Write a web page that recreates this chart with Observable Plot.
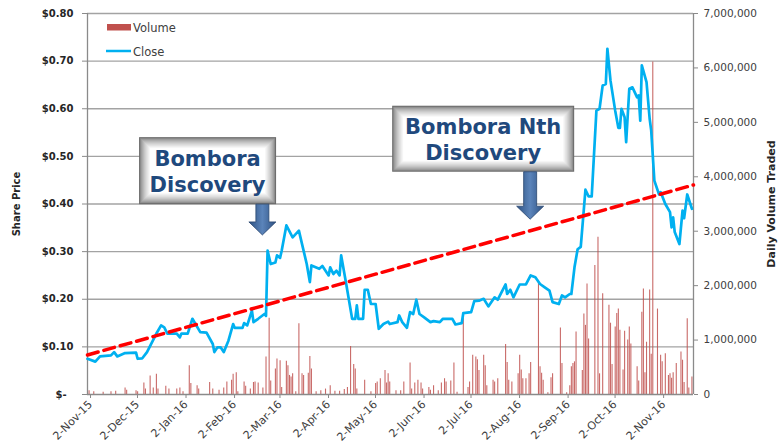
<!DOCTYPE html>
<html>
<head>
<meta charset="utf-8">
<script src="https://cdn.jsdelivr.net/npm/d3@7"></script>
<script src="https://cdn.jsdelivr.net/npm/@observablehq/plot@0.6"></script>
<style>
  html, body { margin: 0; padding: 0; background: #fff; }
  #chart { width: 780px; height: 442px; }
</style>
</head>
<body>
<div id="chart"></div>
<script>
// ---------------- DATA ----------------
const closeDates = ["2015-11-02","2015-11-07","2015-11-10","2015-11-17","2015-11-19","2015-11-21","2015-11-26","2015-12-03","2015-12-04","2015-12-07","2015-12-10","2015-12-16","2015-12-19","2015-12-21","2015-12-23","2015-12-29","2015-12-31","2016-01-01","2016-01-05","2016-01-08","2016-01-13","2016-01-17","2016-01-21","2016-01-22","2016-01-24","2016-01-26","2016-01-28","2016-01-31","2016-02-03","2016-02-04","2016-02-09","2016-02-10","2016-02-12","2016-02-15","2016-02-16","2016-02-19","2016-02-23","2016-02-24","2016-02-25","2016-02-27","2016-03-01","2016-03-02","2016-03-04","2016-03-05","2016-03-08","2016-03-12","2016-03-16","2016-03-17","2016-03-21","2016-03-23","2016-03-24","2016-03-29","2016-03-31","2016-04-04","2016-04-05","2016-04-07","2016-04-09","2016-04-11","2016-04-12","2016-04-15","2016-04-19","2016-04-21","2016-04-22","2016-04-23","2016-04-26","2016-04-27","2016-04-29","2016-05-01","2016-05-04","2016-05-06","2016-05-09","2016-05-12","2016-05-13","2016-05-18","2016-05-19","2016-05-21","2016-05-24","2016-05-26","2016-05-28","2016-05-30","2016-06-01","2016-06-04","2016-06-08","2016-06-10","2016-06-14","2016-06-16","2016-06-22","2016-06-24","2016-06-28","2016-06-29","2016-07-04","2016-07-06","2016-07-09","2016-07-12","2016-07-15","2016-07-19","2016-07-21","2016-07-26","2016-07-27","2016-07-29","2016-07-31","2016-08-04","2016-08-08","2016-08-11","2016-08-14","2016-08-17","2016-08-20","2016-08-23","2016-08-25","2016-08-29","2016-08-31","2016-09-02","2016-09-05","2016-09-06","2016-09-08","2016-09-10","2016-09-12","2016-09-15","2016-09-17","2016-09-19","2016-09-22","2016-09-24","2016-09-26","2016-09-28","2016-09-29","2016-10-01","2016-10-04","2016-10-06","2016-10-07","2016-10-08","2016-10-10","2016-10-11","2016-10-13","2016-10-15","2016-10-18","2016-10-19","2016-10-20","2016-10-21","2016-10-24","2016-10-26","2016-10-27","2016-10-29","2016-11-01","2016-11-02","2016-11-05","2016-11-08","2016-11-09","2016-11-10","2016-11-11","2016-11-14","2016-11-16","2016-11-17","2016-11-19","2016-11-22"];
const closeValues = [0.075,0.069,0.080,0.082,0.089,0.080,0.087,0.088,0.075,0.076,0.089,0.128,0.145,0.141,0.128,0.128,0.120,0.128,0.128,0.159,0.131,0.130,0.106,0.089,0.099,0.099,0.089,0.113,0.148,0.140,0.140,0.150,0.145,0.176,0.152,0.159,0.169,0.165,0.302,0.274,0.277,0.292,0.287,0.302,0.355,0.330,0.344,0.330,0.274,0.236,0.271,0.264,0.270,0.250,0.267,0.253,0.260,0.250,0.292,0.236,0.159,0.159,0.187,0.159,0.159,0.220,0.220,0.190,0.190,0.138,0.148,0.153,0.148,0.152,0.166,0.152,0.140,0.173,0.169,0.199,0.169,0.162,0.152,0.154,0.152,0.159,0.159,0.147,0.150,0.171,0.173,0.196,0.197,0.201,0.185,0.204,0.199,0.231,0.211,0.220,0.204,0.231,0.231,0.250,0.246,0.232,0.225,0.218,0.194,0.190,0.208,0.204,0.211,0.211,0.267,0.305,0.310,0.430,0.416,0.416,0.596,0.600,0.649,0.652,0.726,0.659,0.596,0.560,0.560,0.600,0.582,0.530,0.642,0.645,0.624,0.628,0.575,0.691,0.656,0.579,0.554,0.449,0.420,0.425,0.400,0.383,0.351,0.372,0.341,0.316,0.386,0.370,0.420,0.390];

const volumeDates = ["2015-11-03","2015-11-06","2015-11-12","2015-11-17","2015-11-20","2015-11-26","2015-11-27","2015-12-03","2015-12-04","2015-12-08","2015-12-09","2015-12-12","2015-12-14","2015-12-16","2015-12-17","2015-12-22","2015-12-24","2015-12-29","2015-12-31","2016-01-02","2016-01-06","2016-01-07","2016-01-11","2016-01-12","2016-01-19","2016-01-21","2016-01-25","2016-01-28","2016-01-30","2016-02-02","2016-02-03","2016-02-05","2016-02-06","2016-02-10","2016-02-11","2016-02-14","2016-02-16","2016-02-17","2016-02-19","2016-02-22","2016-02-24","2016-02-26","2016-02-27","2016-03-01","2016-03-02","2016-03-04","2016-03-05","2016-03-08","2016-03-09","2016-03-10","2016-03-11","2016-03-12","2016-03-14","2016-03-16","2016-03-18","2016-03-19","2016-03-22","2016-03-23","2016-03-24","2016-03-27","2016-03-30","2016-04-02","2016-04-05","2016-04-08","2016-04-11","2016-04-14","2016-04-16","2016-04-18","2016-04-20","2016-04-21","2016-04-22","2016-04-27","2016-05-01","2016-05-04","2016-05-05","2016-05-07","2016-05-10","2016-05-11","2016-05-12","2016-05-13","2016-05-17","2016-05-20","2016-05-22","2016-05-26","2016-05-27","2016-05-29","2016-05-31","2016-06-02","2016-06-03","2016-06-07","2016-06-08","2016-06-10","2016-06-13","2016-06-15","2016-06-17","2016-06-18","2016-06-21","2016-06-23","2016-06-25","2016-06-29","2016-07-02","2016-07-03","2016-07-05","2016-07-07","2016-07-08","2016-07-09","2016-07-12","2016-07-13","2016-07-14","2016-07-18","2016-07-19","2016-07-21","2016-07-26","2016-07-27","2016-07-28","2016-07-30","2016-08-03","2016-08-04","2016-08-05","2016-08-06","2016-08-08","2016-08-10","2016-08-11","2016-08-16","2016-08-17","2016-08-18","2016-08-19","2016-08-22","2016-08-24","2016-08-25","2016-08-30","2016-08-31","2016-09-03","2016-09-05","2016-09-06","2016-09-07","2016-09-08","2016-09-09","2016-09-13","2016-09-14","2016-09-15","2016-09-16","2016-09-17","2016-09-21","2016-09-23","2016-09-24","2016-09-26","2016-09-30","2016-10-01","2016-10-02","2016-10-04","2016-10-05","2016-10-06","2016-10-07","2016-10-09","2016-10-10","2016-10-12","2016-10-13","2016-10-14","2016-10-18","2016-10-19","2016-10-21","2016-10-22","2016-10-23","2016-10-24","2016-10-26","2016-10-27","2016-10-28","2016-10-31","2016-11-02","2016-11-03","2016-11-05","2016-11-07","2016-11-08","2016-11-09","2016-11-10","2016-11-12","2016-11-15","2016-11-16","2016-11-17","2016-11-19","2016-11-20","2016-11-22"];
const volumeValues = [70000,50000,40000,50000,60000,120000,80000,70000,50000,210000,100000,340000,120000,370000,100000,150000,100000,100000,120000,50000,530000,200000,160000,100000,220000,100000,80000,120000,230000,260000,370000,400000,50000,230000,150000,100000,220000,230000,210000,120000,690000,1400000,250000,470000,650000,620000,130000,610000,530000,350000,320000,380000,50000,1300000,380000,350000,390000,700000,470000,50000,70000,100000,160000,60000,60000,90000,130000,880000,550000,470000,100000,260000,50000,200000,230000,290000,440000,210000,380000,230000,70000,70000,230000,580000,100000,210000,260000,210000,100000,130000,80000,160000,70000,210000,290000,230000,250000,580000,40000,1400000,130000,230000,720000,690000,640000,440000,720000,530000,160000,260000,230000,290000,920000,590000,260000,230000,380000,720000,450000,290000,290000,380000,590000,2060000,510000,390000,260000,30000,310000,380000,1220000,570000,30000,160000,510000,570000,600000,1150000,440000,1480000,1270000,2030000,1020000,2370000,2890000,380000,1850000,1640000,1310000,550000,1240000,1490000,1570000,1180000,450000,1160000,1000000,1240000,930000,510000,250000,1510000,1940000,400000,960000,1920000,740000,6110000,1570000,720000,600000,750000,350000,380000,300000,400000,570000,780000,630000,220000,1390000,120000,320000];

const trendDates = ["2015-11-02","2016-11-23"];
const trendValues = [0.083, 0.440];

const priceTicks = [0, 0.1, 0.2, 0.3, 0.4, 0.5, 0.6, 0.7, 0.8];
const volumeTicks = [0, 1000000, 2000000, 3000000, 4000000, 5000000, 6000000, 7000000];
const dateTicks = ["2015-11-02","2015-12-02","2016-01-02","2016-02-02","2016-03-02","2016-04-02","2016-05-02","2016-06-02","2016-07-02","2016-08-02","2016-09-02","2016-10-02","2016-11-02"];
const xDomain = ["2015-11-02","2016-11-23"];

const annotationLines = [["Bombora","Discovery"],["Bombora Nth","Discovery"]];
const annotationBoxDates = ["2016-01-18","2016-07-12"];
const annotationBoxPrices = [0.469, 0.536];
const annotationArrowDates = ["2016-02-22","2016-08-11"];
const annotationArrowPrices = [0.334, 0.367];

const legendLabels = ["Volume","Close"];

// ---------------- BUILD ----------------
const P = d3.utcParse("%Y-%m-%d");
const closeData = closeDates.map((d, i) => ({date: P(d), close: closeValues[i]}));
const volData = volumeDates.map((d, i) => ({date: P(d), volume: volumeValues[i]}));
const trendData = trendDates.map((d, i) => ({date: P(d), value: trendValues[i]}));
const k = 0.8 / 7000000; // volume -> price-axis units

const FONT = "DejaVu Sans";
const GRID = "#A3A3A3";
const AXIS = "#8A8A8A";

const chart = Plot.plot({
  width: 780,
  height: 442,
  marginLeft: 87,
  marginRight: 87,
  marginTop: 13,
  marginBottom: 48,
  style: {fontFamily: FONT, background: "#fff", overflow: "visible"},
  x: {type: "utc", domain: xDomain.map(P)},
  y: {domain: [0, 0.8]},
  marks: [
    Plot.ruleY(priceTicks.filter(d => d > 0), {stroke: GRID, strokeWidth: 1.3}),
    Plot.ruleX(volData, {x: "date", y1: 0, y2: d => d.volume * k, stroke: "#C0504D", strokeWidth: 1.1, strokeOpacity: 0.85}),
    Plot.ruleY([0], {stroke: AXIS, strokeWidth: 1.3}),
    Plot.ruleX([P(xDomain[0]), P(xDomain[1])], {stroke: AXIS, strokeWidth: 1.3}),
    Plot.line(closeData, {x: "date", y: "close", stroke: "#00B0F0", strokeWidth: 2.7, strokeLinejoin: "round"}),
    Plot.line(trendData, {x: "date", y: "value", stroke: "#FF0000", strokeWidth: 3.5, strokeDasharray: "11,6"}),
    Plot.axisY(priceTicks, {
      anchor: "left", label: null, tickSize: 5, tickPadding: 9,
      tickFormat: d => d === 0 ? "$-\u2007" : "$" + d.toFixed(2),
      stroke: AXIS, fill: "#262626", fontWeight: "bold", fontSize: 10
    }),
    Plot.axisY(volumeTicks.map(v => v * k), {
      anchor: "right", label: null, tickSize: 4, tickPadding: 6,
      tickFormat: d => d3.format(",")(Math.round(d / k)),
      stroke: AXIS, fill: "#404040", fontSize: 10.5
    }),
    Plot.axisX(dateTicks.map(P), {
      anchor: "bottom", label: null, tickSize: 4, tickPadding: 4, tickRotate: -45,
      tickFormat: d3.utcFormat("%-d-%b-%y"),
      stroke: AXIS, fill: "#404040", fontSize: 11, dx: 3
    }),
    Plot.text(["Share Price"], {text: d => d, frameAnchor: "left", textAnchor: "middle", rotate: -90, dx: -71, fontWeight: "bold", fontSize: 10, fill: "#262626"}),
    Plot.text(["Daily Volume Traded"], {text: d => d, frameAnchor: "right", textAnchor: "middle", rotate: -90, dx: 78, fontWeight: "bold", fontSize: 11, fill: "#262626"})
  ]
});

document.getElementById("chart").appendChild(chart);

// ---------------- LEGEND & ANNOTATIONS ----------------
const xs = chart.scale("x"), ys = chart.scale("y");
const svg = d3.select(chart);

// legend (inside top-left of frame)
const lg = svg.append("g").attr("font-family", FONT).attr("font-size", 11.5).attr("fill", "#404040").attr("text-anchor", "start");
lg.append("rect").attr("x", 107).attr("y", 24).attr("width", 24).attr("height", 6.5).attr("fill", "#C0504D");
lg.append("text").attr("x", 133).attr("y", 27.5).attr("dy", "0.35em").text(legendLabels[0]);
lg.append("line").attr("x1", 106).attr("x2", 131).attr("y1", 51).attr("y2", 51).attr("stroke", "#00B0F0").attr("stroke-width", 2.5);
lg.append("text").attr("x", 133).attr("y", 51.5).attr("dy", "0.35em").text(legendLabels[1]);

// arrow gradient
const defs = svg.append("defs");
const grad = defs.append("linearGradient").attr("id", "arrowGrad").attr("x1", "0%").attr("x2", "100%").attr("y1", "0%").attr("y2", "0%");
grad.append("stop").attr("offset", "0%").attr("stop-color", "#2E5283");
grad.append("stop").attr("offset", "50%").attr("stop-color", "#5B84BA");
grad.append("stop").attr("offset", "100%").attr("stop-color", "#2E5283");

const BOX_W = [137, 182];
const BOX_H = [67, 66];
const shade = d3.interpolateRgb("#6a6a6a", "#ffffff");

annotationLines.forEach((lines, i) => {
  const cx = xs.apply(P(annotationBoxDates[i]));
  const cy = ys.apply(annotationBoxPrices[i]);
  const w = BOX_W[i], h = BOX_H[i];
  const x0 = cx - w / 2, y0 = cy - h / 2;
  const g = svg.append("g");
  const steps = 12;
  for (let s = 0; s < steps; s++) {
    const t = Math.pow(s / (steps - 1), 0.6);
    g.append("rect")
      .attr("x", x0 + s).attr("y", y0 + s)
      .attr("width", w - 2 * s).attr("height", h - 2 * s)
      .attr("fill", shade(t));
  }
  const txt = g.append("text").attr("font-family", FONT).attr("font-weight", "bold")
    .attr("font-size", 21).attr("fill", "#1F497D").attr("text-anchor", "middle");
  txt.append("tspan").attr("x", cx).attr("y", cy - 5).text(lines[0]);
  txt.append("tspan").attr("x", cx).attr("y", cy + 21.5).text(lines[1]);

  // arrow
  const tx = xs.apply(P(annotationArrowDates[i]));
  const ty = ys.apply(annotationArrowPrices[i]);
  const top = y0 + h;
  const bw = 6.5, hw = 13.5, hl = 13;
  const pts = [[tx - bw, top], [tx + bw, top], [tx + bw, ty - hl], [tx + hw, ty - hl], [tx, ty], [tx - hw, ty - hl], [tx - bw, ty - hl]];
  svg.append("polygon").attr("points", pts.map(p => p.join(",")).join(" "))
    .attr("fill", "url(#arrowGrad)").attr("stroke", "#2A4670").attr("stroke-width", 0.8);
});
</script>
</body>
</html>
